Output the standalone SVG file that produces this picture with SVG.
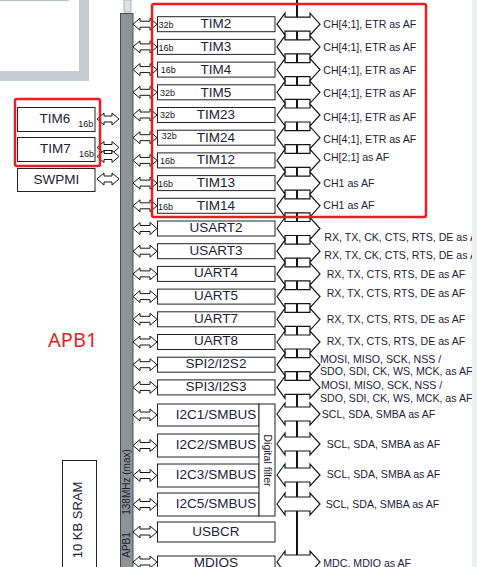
<svg xmlns="http://www.w3.org/2000/svg" width="477" height="567" viewBox="0 0 477 567">
<defs>
<style>
.bx{fill:#fff;stroke:#222;stroke-width:1}
.t{font-family:"Liberation Sans",Arial,sans-serif;fill:#1b2238}
.lb{font-size:13.5px;text-anchor:middle}
.bit{font-size:9px;fill:#151515}
.af{font-size:10.6px}
.ar{fill:#fff;stroke:#151515;stroke-width:1}
.ra{fill:#fff;stroke:#151515;stroke-width:1.2}
.red{fill:none;stroke:#ec1c24;stroke-width:2.5}
</style>
<path id="la" d="M0,0 L7,-6 L7,-3 L17,-3 L17,-6 L24,0 L17,6 L17,3 L7,3 L7,6 Z"/>
<path id="ls" d="M0,0 L7,-6 L7,-3 L15,-3 L15,-6 L22,0 L15,6 L15,3 L7,3 L7,6 Z"/>
<path id="rr" d="M0,0 L8,-11 L8,-7 L33,-7 L33,-11 L43,0 L33,11 L33,7 L8,7 L8,11 Z"/>
</defs>
<rect width="477" height="567" fill="#fff"/>
<g id="frame">
<path d="M0,71 H79 V0 H89 V81 H0 Z" fill="#c5ccd3"/>
<line x1="0" y1="0.5" x2="69" y2="0.5" stroke="#b9c0c7" stroke-width="1"/>
</g>
<g id="apb1-bus">
<rect x="124" y="0" width="7" height="12" fill="#dfe3e6" stroke="#aab2b9" stroke-width="1"/>
<rect x="120.5" y="13.5" width="12.5" height="560" fill="#8e9398" stroke="#4a4d50" stroke-width="1"/>
<text class="t" transform="translate(130.3,545) rotate(-90)" font-size="10" text-anchor="middle" fill="#1a1a1a">APB1</text>
<text class="t" transform="translate(130.3,482) rotate(-90)" font-size="10" text-anchor="middle" fill="#1a1a1a">138MHz (max)</text>
</g>
<g id="apb1-label"><text x="48" y="347" font-family="'Noto Sans','Liberation Sans',sans-serif" font-size="20" fill="#ec1c24">APB1</text></g>
<g id="sram"><rect class="bx" x="62.5" y="460.5" width="34" height="112"/>
<text class="t" transform="translate(82,520) rotate(-90)" font-size="13" text-anchor="middle" fill="#111">10 KB SRAM</text></g>

<g id="connectors">
<line x1="297" y1="0" x2="297" y2="556" stroke="#151515" stroke-width="2"/>
<use href="#ls" class="ar" x="97" y="119"/>
<use href="#ls" class="ar" x="97" y="147.5"/>
<use href="#ls" class="ar" x="97" y="156.5"/>
<use href="#ls" class="ar" x="97" y="179"/>
<use href="#la" class="ar" x="133" y="24.2"/>
<use href="#la" class="ar" x="133" y="46.9"/>
<use href="#la" class="ar" x="133" y="69.6"/>
<use href="#la" class="ar" x="133" y="92.3"/>
<use href="#la" class="ar" x="133" y="115"/>
<use href="#la" class="ar" x="133" y="137.7"/>
<use href="#la" class="ar" x="133" y="160.4"/>
<use href="#la" class="ar" x="133" y="183.1"/>
<use href="#la" class="ar" x="133" y="205.8"/>
<use href="#la" class="ar" x="133" y="228.5"/>
<use href="#la" class="ar" x="133" y="251.2"/>
<use href="#la" class="ar" x="133" y="273.9"/>
<use href="#la" class="ar" x="133" y="296.6"/>
<use href="#la" class="ar" x="133" y="319.3"/>
<use href="#la" class="ar" x="133" y="342"/>
<use href="#la" class="ar" x="133" y="364.7"/>
<use href="#la" class="ar" x="133" y="387.4"/>
<use href="#la" class="ar" x="133" y="415"/>
<use href="#la" class="ar" x="133" y="445.5"/>
<use href="#la" class="ar" x="133" y="475.5"/>
<use href="#la" class="ar" x="133" y="504.5"/>
<use href="#la" class="ar" x="133" y="532"/>
<use href="#la" class="ar" x="133" y="562"/>
<use href="#rr" class="ra" x="277" y="24.2"/>
<use href="#rr" class="ra" x="277" y="46.9"/>
<use href="#rr" class="ra" x="277" y="69.6"/>
<use href="#rr" class="ra" x="277" y="92.3"/>
<use href="#rr" class="ra" x="277" y="115"/>
<use href="#rr" class="ra" x="277" y="137.7"/>
<use href="#rr" class="ra" x="277" y="160.4"/>
<use href="#rr" class="ra" x="277" y="183.1"/>
<use href="#rr" class="ra" x="277" y="205.8"/>
<use href="#rr" class="ra" x="277" y="228.5"/>
<use href="#rr" class="ra" x="277" y="251.2"/>
<use href="#rr" class="ra" x="277" y="273.9"/>
<use href="#rr" class="ra" x="277" y="296.6"/>
<use href="#rr" class="ra" x="277" y="319.3"/>
<use href="#rr" class="ra" x="277" y="342"/>
<use href="#rr" class="ra" x="277" y="364.7"/>
<use href="#rr" class="ra" x="277" y="387.4"/>
<use href="#rr" class="ra" x="277" y="414"/>
<use href="#rr" class="ra" x="277" y="444"/>
<use href="#rr" class="ra" x="277" y="475"/>
<use href="#rr" class="ra" x="277" y="504"/>
<use href="#rr" class="ra" x="277" y="562"/>
</g>

<g id="tim6"><rect class="bx" x="17.5" y="107.5" width="77.5" height="24"/><text class="t lb" x="55" y="122.5">TIM6</text><text class="t bit" x="78.3" y="127.3">16b</text></g>
<g id="tim7"><rect class="bx" x="17.5" y="137.5" width="77.5" height="24"/><text class="t lb" x="55.5" y="153">TIM7</text><text class="t bit" x="79" y="157.3">16b</text></g>
<g id="swpmi"><rect class="bx" x="17.5" y="168.5" width="77.5" height="23"/><text class="t lb" x="56.3" y="183.5">SWPMI</text></g>

<g id="tim2"><rect class="bx" x="157.5" y="16.7" width="117.5" height="15"/><text class="t lb" x="216" y="28.4">TIM2</text><text class="t bit" x="158.5" y="28.3">32b</text></g>
<g id="tim3"><rect class="bx" x="157.5" y="39.4" width="117.5" height="15"/><text class="t lb" x="216" y="51.1">TIM3</text><text class="t bit" x="158.5" y="50.6">16b</text></g>
<g id="tim4"><rect class="bx" x="157.5" y="62.1" width="117.5" height="15"/><text class="t lb" x="216" y="73.8">TIM4</text><text class="t bit" x="160.7" y="73.3">16b</text></g>
<g id="tim5"><rect class="bx" x="157.5" y="84.8" width="117.5" height="15"/><text class="t lb" x="216" y="96.5">TIM5</text><text class="t bit" x="160" y="96">32b</text></g>
<g id="tim23"><rect class="bx" x="157.5" y="107.5" width="117.5" height="15"/><text class="t lb" x="216" y="119.2">TIM23</text><text class="t bit" x="160" y="117.8">32b</text></g>
<g id="tim24"><rect class="bx" x="157.5" y="130.2" width="117.5" height="15"/><text class="t lb" x="216" y="141.9">TIM24</text><text class="t bit" x="161.7" y="139.4">32b</text></g>
<g id="tim12"><rect class="bx" x="157.5" y="152.9" width="117.5" height="15"/><text class="t lb" x="216" y="164.4">TIM12</text><text class="t bit" x="160" y="164">16b</text></g>
<g id="tim13"><rect class="bx" x="157.5" y="175.6" width="117.5" height="15"/><text class="t lb" x="216" y="186.9">TIM13</text><text class="t bit" x="158" y="187.2">16b</text></g>
<g id="tim14"><rect class="bx" x="157.5" y="198.3" width="117.5" height="15"/><text class="t lb" x="216" y="209.8">TIM14</text><text class="t bit" x="158" y="209.8">16b</text></g>

<g id="usart2"><rect class="bx" x="157.5" y="221" width="117.5" height="15"/><text class="t lb" x="216" y="231.8">USART2</text></g>
<g id="usart3"><rect class="bx" x="157.5" y="243.7" width="117.5" height="15"/><text class="t lb" x="216" y="254.5">USART3</text></g>
<g id="uart4"><rect class="bx" x="157.5" y="266.4" width="117.5" height="15"/><text class="t lb" x="216" y="277.2">UART4</text></g>
<g id="uart5"><rect class="bx" x="157.5" y="289.1" width="117.5" height="15"/><text class="t lb" x="216" y="299.9">UART5</text></g>
<g id="uart7"><rect class="bx" x="157.5" y="311.8" width="117.5" height="15"/><text class="t lb" x="216" y="322.6">UART7</text></g>
<g id="uart8"><rect class="bx" x="157.5" y="334.5" width="117.5" height="15"/><text class="t lb" x="216" y="345.3">UART8</text></g>
<g id="spi2"><rect class="bx" x="157.5" y="357.2" width="117.5" height="15"/><text class="t lb" x="216" y="368">SPI2/I2S2</text></g>
<g id="spi3"><rect class="bx" x="157.5" y="379.9" width="117.5" height="15"/><text class="t lb" x="216" y="390.7">SPI3/I2S3</text></g>

<g id="i2c1"><rect class="bx" x="157.5" y="404" width="101.5" height="22"/><text class="t lb" x="216" y="418.7">I2C1/SMBUS</text></g>
<g id="i2c2"><rect class="bx" x="157.5" y="434" width="101.5" height="23"/><text class="t lb" x="216" y="449.2">I2C2/SMBUS</text></g>
<g id="i2c3"><rect class="bx" x="157.5" y="464" width="101.5" height="23"/><text class="t lb" x="216" y="479.2">I2C3/SMBUS</text></g>
<g id="i2c5"><rect class="bx" x="157.5" y="493" width="101.5" height="23"/><text class="t lb" x="216" y="508.2">I2C5/SMBUS</text></g>
<g id="digital-filter"><rect class="bx" x="259" y="404" width="16" height="112"/><text class="t" transform="translate(263.5,460.5) rotate(90)" font-size="10.5" text-anchor="middle" fill="#111">Digital filter</text></g>
<g id="usbcr"><rect class="bx" x="157.5" y="522" width="117.5" height="20"/><text class="t lb" x="216" y="535.7">USBCR</text></g>
<g id="mdios"><rect class="bx" x="157.5" y="556" width="117.5" height="20"/><text class="t lb" x="216" y="567">MDIOS</text></g>

<g id="af-labels" class="t af">
<text x="323.3" y="28.3">CH[4;1], ETR as AF</text>
<text x="323.3" y="51">CH[4;1], ETR as AF</text>
<text x="323.3" y="74">CH[4;1], ETR as AF</text>
<text x="323.3" y="97">CH[4;1], ETR as AF</text>
<text x="323.3" y="120.5">CH[4;1], ETR as AF</text>
<text x="323.3" y="142.5">CH[4;1], ETR as AF</text>
<text x="323.3" y="160.7">CH[2;1] as AF</text>
<text x="323.3" y="186.7">CH1 as AF</text>
<text x="323.3" y="209.3">CH1 as AF</text>
<text x="324.3" y="240.7">RX, TX, CK, CTS, RTS, DE as AF</text>
<text x="324.3" y="259.3">RX, TX, CK, CTS, RTS, DE as AF</text>
<text x="326.7" y="278.3">RX, TX, CTS, RTS, DE as AF</text>
<text x="326.7" y="296.7">RX, TX, CTS, RTS, DE as AF</text>
<text x="326.7" y="322.7">RX, TX, CTS, RTS, DE as AF</text>
<text x="326.7" y="345">RX, TX, CTS, RTS, DE as AF</text>
<text x="320" y="362.7">MOSI, MISO, SCK, NSS /</text>
<text x="320" y="374.5">SDO, SDI, CK, WS, MCK, as AF</text>
<text x="321" y="389.3">MOSI, MISO, SCK, NSS /</text>
<text x="320" y="401.7">SDO, SDI, CK, WS, MCK, as AF</text>
<text x="321.7" y="418.3">SCL, SDA, SMBA as AF</text>
<text x="326.7" y="447.7">SCL, SDA, SMBA as AF</text>
<text x="326.7" y="478.3">SCL, SDA, SMBA as AF</text>
<text x="325.7" y="507.7">SCL, SDA, SMBA as AF</text>
<text x="323.3" y="566.7">MDC, MDIO as AF</text>
</g>

<g id="highlights">
<rect class="red" x="15" y="99" width="85" height="67" rx="2"/>
<rect class="red" x="152" y="4" width="274" height="213" rx="2"/>
</g>
<rect id="edge-band" x="472" y="0" width="5" height="567" fill="#eceef0"/>
</svg>
